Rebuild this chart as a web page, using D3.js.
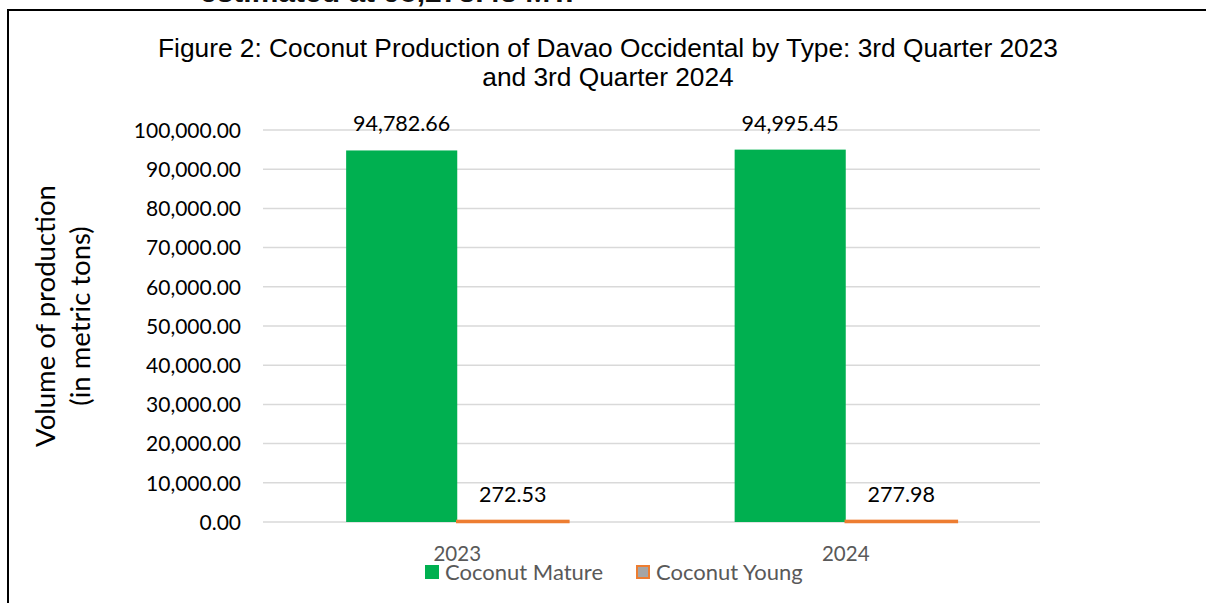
<!DOCTYPE html>
<html>
<head>
<meta charset="utf-8">
<script src="https://cdn.jsdelivr.net/npm/d3@7"></script>
<style>
  body { margin: 0; background: #fff; }
  svg { display: block; }
</style>
</head>
<body>
<svg width="1206" height="603"></svg>
<script>
// data
var years = ["2023", "2024"];
var types = ["Coconut Mature", "Coconut Young"];
var mature = [94782.66, 94995.45];
var young = [272.53, 277.98];
var yTicks = [0, 10000, 20000, 30000, 40000, 50000, 60000, 70000, 80000, 90000, 100000];

var svg = d3.select("svg"),
    margin = {top: 130, right: 166, bottom: 81, left: 263},
    width = 1206 - margin.left - margin.right,
    height = 603 - margin.top - margin.bottom,
    g = svg.append("g").attr("transform", "translate(" + margin.left + "," + margin.top + ")");

var labelFont = "Lato, 'Open Sans', sans-serif";

// clipped line of text from the page above the figure
svg.append("text")
    .attr("x", 200)
    .attr("y", 2)
    .style("font", "bold 30px 'Liberation Sans', Arial, sans-serif")
    .attr("fill", "#111")
    .text("estimated at 95,273.43 MT.");

// frame of the figure box
svg.append("path")
    .attr("d", "M8,603 V10 H1206")
    .attr("fill", "none")
    .attr("stroke", "#000")
    .attr("stroke-width", 2);

// scales
var x0 = d3.scaleBand().domain(years).range([0, width]).paddingInner(0.428).paddingOuter(0.214);
var x1 = d3.scaleBand().domain(types).range([0, x0.bandwidth()]);
var y = d3.scaleLinear().domain([0, 100000]).range([height, 0]);
var fmt = d3.format(",.2f");

var rows = years.map(function(yr, i) {
    return {year: yr, values: [
        {type: types[0], value: mature[i]},
        {type: types[1], value: young[i]}
    ]};
});

// gridlines
g.append("g")
    .selectAll("line")
    .data(yTicks)
    .enter().append("line")
    .attr("x1", 0).attr("x2", width)
    .attr("y1", function(d) { return y(d); })
    .attr("y2", function(d) { return y(d); })
    .attr("stroke", "#d9d9d9")
    .attr("stroke-width", 1.5);

// y axis labels
var yAxis = g.append("g")
    .attr("class", "axis axis-y")
    .attr("transform", "translate(-22,0)")
    .call(d3.axisLeft(y).tickValues(yTicks).tickFormat(fmt).tickSize(0));
yAxis.select(".domain").remove();
yAxis.selectAll("text")
    .style("font", "21px " + labelFont)
    .attr("fill", "#000")
    .attr("x", 0)
    .attr("dy", "0.35em");

// x axis labels
var xAxis = g.append("g")
    .attr("class", "axis axis-x")
    .attr("transform", "translate(0," + height + ")")
    .call(d3.axisBottom(x0).tickSize(0));
xAxis.select(".domain").remove();
xAxis.selectAll("text")
    .style("font", "20.5px " + labelFont)
    .attr("fill", "#595959")
    .attr("dy", "0")
    .attr("y", 39);

// bars
var color = {"Coconut Mature": "#00b050", "Coconut Young": "#a5a5a5"};
var stroke = {"Coconut Mature": "none", "Coconut Young": "#ed7d31"};

var group = g.selectAll(".year")
    .data(rows)
    .enter().append("g")
    .attr("class", "year")
    .attr("transform", function(d) { return "translate(" + x0(d.year) + ",0)"; });

group.selectAll("rect")
    .data(function(d) { return d.values; })
    .enter().append("rect")
    .attr("x", function(d) { return x1(d.type); })
    .attr("width", x1.bandwidth())
    .attr("y", function(d) { return y(d.value); })
    .attr("height", function(d) { return height - y(d.value); })
    .attr("fill", function(d) { return color[d.type]; })
    .attr("stroke", function(d) { return stroke[d.type]; })
    .attr("stroke-width", 2.5);

group.selectAll(".val")
    .data(function(d) { return d.values; })
    .enter().append("text")
    .attr("class", "val")
    .attr("x", function(d) { return x1(d.type) + x1.bandwidth() / 2; })
    .attr("y", function(d) { return y(d.value) - 19; })
    .attr("text-anchor", "middle")
    .style("font", "21.5px " + labelFont)
    .attr("fill", "#000")
    .text(function(d) { return fmt(d.value); });

// title
var title = svg.append("g").attr("class", "title");
title.selectAll("text")
    .data(["Figure 2: Coconut Production of Davao Occidental by Type: 3rd Quarter 2023",
           "and 3rd Quarter 2024"])
    .enter().append("text")
    .attr("x", 608)
    .attr("y", function(d, i) { return 57 + i * 29; })
    .attr("text-anchor", "middle")
    .style("font", "26.3px 'Liberation Sans', Arial, sans-serif")
    .attr("fill", "#000")
    .text(function(d) { return d; });

// y axis title
var yTitle = svg.append("text")
    .attr("transform", "translate(0,316) rotate(-90)")
    .attr("text-anchor", "middle")
    .style("font", "27.5px " + labelFont)
    .attr("fill", "#000");
yTitle.append("tspan").attr("x", 0).attr("y", 55).text("Volume of production");
yTitle.append("tspan").attr("x", 0).attr("y", 90).text("(in metric tons)");

// legend
var legendX = [425, 636];
var legend = svg.append("g").attr("class", "legend")
    .selectAll("g")
    .data(types)
    .enter().append("g")
    .attr("transform", function(d, i) { return "translate(" + legendX[i] + ",565)"; });

legend.append("rect")
    .attr("x", function(d, i) { return i ? 1 : 0; })
    .attr("y", function(d, i) { return i ? 1 : 0; })
    .attr("width", function(d, i) { return i ? 12 : 14; })
    .attr("height", function(d, i) { return i ? 12 : 14; })
    .attr("fill", function(d) { return color[d]; })
    .attr("stroke", function(d) { return stroke[d]; })
    .attr("stroke-width", 2);

legend.append("text")
    .attr("x", 20)
    .attr("y", 15)
    .style("font", "22px " + labelFont)
    .attr("fill", "#595959")
    .text(function(d) { return d; });
</script>
</body>
</html>
